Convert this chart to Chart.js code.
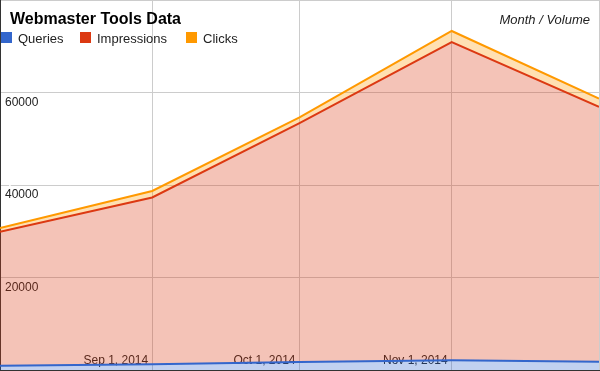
<!DOCTYPE html>
<html>
<head>
<meta charset="utf-8">
<script src="https://cdn.jsdelivr.net/npm/chart.js@4"></script>
<style>
  body { margin: 0; background: #fff; }
  canvas { display: block; }
</style>
</head>
<body>
<canvas id="chart" width="600" height="371"></canvas>
<script>
// data
const months = ["Aug 1, 2014", "Sep 1, 2014", "Oct 1, 2014", "Nov 1, 2014", "Dec 1, 2014"];
const monthDays = [0, 31, 61, 92, 122];
const shownMonths = ["Sep 1, 2014", "Oct 1, 2014", "Nov 1, 2014"];
const queries = [900, 1230, 1730, 2100, 1800];
const impressions = [29000, 36070, 51670, 68800, 55100];
const clicks = [800, 1400, 1200, 2400, 1800];
const yTicks = [20000, 40000, 60000];

const seriesNames = ["Queries", "Impressions", "Clicks"];
const seriesColors = ["#3366cc", "#dc3912", "#ff9900"];
const seriesFills = ["rgba(51,102,204,0.3)", "rgba(220,57,18,0.3)", "rgba(255,153,0,0.3)"];

Chart.defaults.font.family = "'Liberation Sans', Arial, sans-serif";

function points(values) {
    return values.map((v, i) => ({ x: monthDays[i], y: v }));
}

// axes take no room: labels are drawn inside the plot
function noRoom(scale) {
    if (scale.isHorizontal()) {
        scale.height = 0;
    } else {
        scale.width = 0;
    }
    scale.paddingTop = 0;
    scale.paddingBottom = 0;
    scale.paddingLeft = 0;
    scale.paddingRight = 0;
}

// title, legend and axis caption sit on top of the plot
const overlay = {
    id: "overlay",
    afterDraw(chart) {
        const ctx = chart.ctx;
        ctx.save();
        ctx.textBaseline = "alphabetic";
        ctx.textAlign = "left";
        ctx.fillStyle = "#000";
        ctx.font = "bold 16px 'Liberation Sans', Arial";
        ctx.fillText("Webmaster Tools Data", 10, 24);

        const boxX = [1, 80, 186];
        ctx.font = "13px 'Liberation Sans', Arial";
        seriesNames.forEach((name, i) => {
            ctx.fillStyle = seriesColors[i];
            ctx.fillRect(boxX[i], 32, 11, 11);
            ctx.fillStyle = "#222";
            ctx.fillText(name, boxX[i] + 17, 43);
        });

        ctx.font = "italic 13px 'Liberation Sans', Arial";
        ctx.textAlign = "right";
        ctx.fillStyle = "#222";
        ctx.fillText("Month / Volume", 590, 24);
        ctx.restore();
    }
};

new Chart(document.getElementById("chart"), {
    type: "line",
    data: {
        datasets: [
            {
                label: seriesNames[0],
                data: points(queries),
                borderColor: seriesColors[0],
                backgroundColor: seriesFills[0],
                fill: "origin",
            },
            {
                label: seriesNames[1],
                data: points(impressions),
                borderColor: seriesColors[1],
                backgroundColor: seriesFills[1],
                fill: "-1",
            },
            {
                label: seriesNames[2],
                data: points(clicks),
                borderColor: seriesColors[2],
                backgroundColor: seriesFills[2],
                fill: "-1",
            },
        ],
    },
    options: {
        responsive: false,
        animation: false,
        layout: { padding: { top: 0, right: 1, bottom: 1, left: 0 } },
        elements: {
            line: { borderWidth: 2, tension: 0 },
            point: { radius: 0, hoverRadius: 0 },
        },
        plugins: {
            legend: { display: false },
            title: { display: false },
            tooltip: { enabled: false },
        },
        scales: {
            x: {
                type: "linear",
                min: monthDays[0],
                max: monthDays[monthDays.length - 1],
                afterBuildTicks: (scale) => {
                    scale.ticks = monthDays.map((d) => ({ value: d }));
                },
                afterFit: noRoom,
                grid: { color: "#ccc", drawTicks: false },
                border: { color: "#333" },
                ticks: {
                    mirror: true,
                    padding: 2,
                    align: "end",
                    labelOffset: -4,
                    maxRotation: 0,
                    autoSkip: false,
                    color: "#222",
                    font: { size: 12 },
                    textStrokeColor: "#fff",
                    textStrokeWidth: 3,
                    callback: (value) => {
                        const label = months[monthDays.indexOf(value)];
                        return shownMonths.includes(label) ? label : "";
                    },
                },
            },
            y: {
                stacked: true,
                min: 0,
                max: 80000,
                afterFit: noRoom,
                grid: { color: "#ccc", drawTicks: false },
                border: { color: "#333" },
                ticks: {
                    stepSize: 20000,
                    mirror: true,
                    padding: 5,
                    labelOffset: 10,
                    color: "#222",
                    font: { size: 12 },
                    textStrokeColor: "#fff",
                    textStrokeWidth: 3,
                    callback: (value) => yTicks.includes(value) ? String(value) : "",
                },
            },
        },
    },
    plugins: [overlay],
});
</script>
</body>
</html>
